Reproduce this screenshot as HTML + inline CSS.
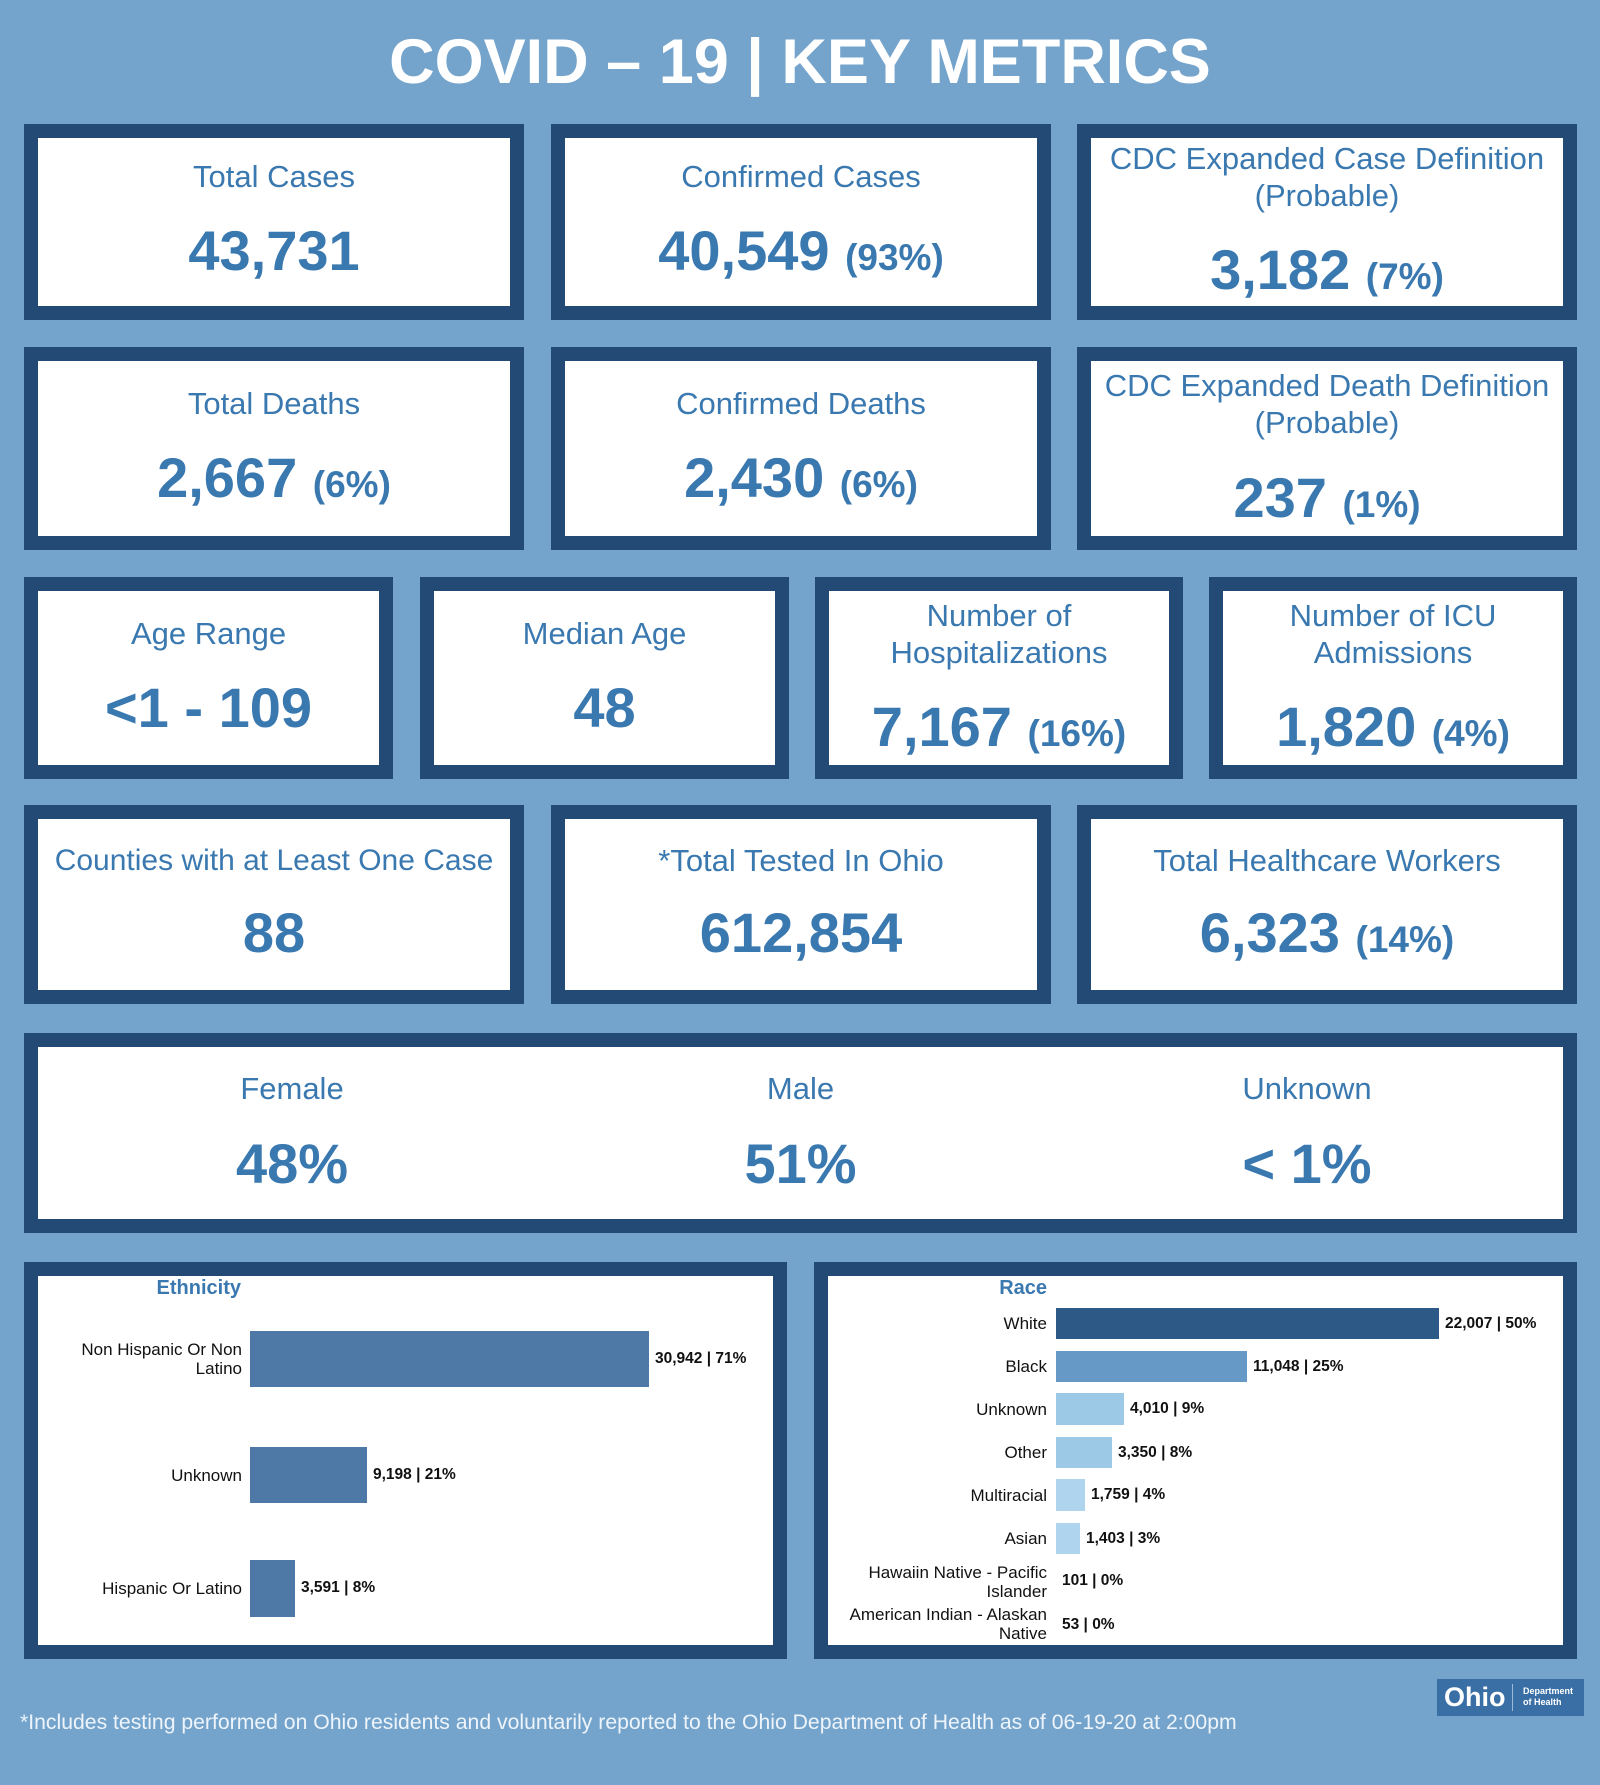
<!DOCTYPE html>
<html><head><meta charset="utf-8"><style>
*{margin:0;padding:0;box-sizing:border-box}
body{width:1600px;height:1785px;background:#74a4cc;position:relative;overflow:hidden;font-family:"Liberation Sans",Arial,sans-serif}
.t{position:absolute;left:0;width:1600px;text-align:center;top:22px;color:#fff;font-weight:bold;font-size:63px;line-height:80px}
.box{position:absolute;border:14px solid #234a74;background:#fff;color:#3a78b0;text-align:center}
.box .h{position:absolute;left:0;right:0;font-size:31px;line-height:37px}
.box .n{position:absolute;left:0;right:0;font-size:56px;font-weight:bold;line-height:64px;white-space:nowrap}
.box .n small{font-size:37px}
.lbl{position:absolute;font-size:17px;color:#111;text-align:right;line-height:19px}
.val{position:absolute;font-size:15.5px;font-weight:bold;color:#111;line-height:18px}
.bar{position:absolute}
</style></head><body>
<div class="t">COVID – 19 | KEY METRICS</div>

<div class="box" style="left:24px;top:124px;width:500px;height:196px"><div class="h" style="top:20px">Total Cases</div><div class="n" style="top:81px">43,731</div></div>
<div class="box" style="left:551px;top:124px;width:500px;height:196px"><div class="h" style="top:20px">Confirmed Cases</div><div class="n" style="top:81px">40,549 <small>(93%)</small></div></div>
<div class="box" style="left:1077px;top:124px;width:500px;height:196px"><div class="h" style="top:2px">CDC Expanded Case Definition<br>(Probable)</div><div class="n" style="top:100px">3,182 <small>(7%)</small></div></div>

<div class="box" style="left:24px;top:347px;width:500px;height:203px"><div class="h" style="top:24px">Total Deaths</div><div class="n" style="top:85px">2,667 <small>(6%)</small></div></div>
<div class="box" style="left:551px;top:347px;width:500px;height:203px"><div class="h" style="top:24px">Confirmed Deaths</div><div class="n" style="top:85px">2,430 <small>(6%)</small></div></div>
<div class="box" style="left:1077px;top:347px;width:500px;height:203px"><div class="h" style="top:6px">CDC Expanded Death Definition<br>(Probable)</div><div class="n" style="top:105px">237 <small>(1%)</small></div></div>

<div class="box" style="left:24px;top:577px;width:369px;height:202px"><div class="h" style="top:24px">Age Range</div><div class="n" style="top:85px">&lt;1 - 109</div></div>
<div class="box" style="left:420px;top:577px;width:369px;height:202px"><div class="h" style="top:24px">Median Age</div><div class="n" style="top:85px">48</div></div>
<div class="box" style="left:815px;top:577px;width:368px;height:202px"><div class="h" style="top:6px">Number of<br>Hospitalizations</div><div class="n" style="top:104px">7,167 <small>(16%)</small></div></div>
<div class="box" style="left:1209px;top:577px;width:368px;height:202px"><div class="h" style="top:6px">Number of ICU<br>Admissions</div><div class="n" style="top:104px">1,820 <small>(4%)</small></div></div>

<div class="box" style="left:24px;top:805px;width:500px;height:199px"><div class="h" style="top:23px;font-size:30px;left:-10px;right:-10px">Counties with at Least One Case</div><div class="n" style="top:82px">88</div></div>
<div class="box" style="left:551px;top:805px;width:500px;height:199px"><div class="h" style="top:23px">*Total Tested In Ohio</div><div class="n" style="top:82px">612,854</div></div>
<div class="box" style="left:1077px;top:805px;width:500px;height:199px"><div class="h" style="top:23px">Total Healthcare Workers</div><div class="n" style="top:82px">6,323 <small>(14%)</small></div></div>

<div class="box" style="left:24px;top:1033px;width:1553px;height:200px">
<div class="h" style="top:23px;left:-14px;right:auto;width:536px">Female</div><div class="n" style="top:85px;left:-14px;right:auto;width:536px">48%</div>
<div class="h" style="top:23px;left:0;right:0">Male</div><div class="n" style="top:85px">51%</div>
<div class="h" style="top:23px;left:1001px;right:auto;width:536px">Unknown</div><div class="n" style="top:85px;left:1001px;right:auto;width:536px">&lt; 1%</div>
</div>

<!-- Ethnicity -->
<div class="box" style="left:24px;top:1262px;width:763px;height:397px"></div>
<div style="position:absolute;left:100px;top:1277px;width:141px;text-align:right;color:#3a78b0;font-weight:bold;font-size:20px">Ethnicity</div>
<div class="bar" style="left:250px;top:1331px;width:399px;height:56px;background:#4e78a6"></div>
<div class="bar" style="left:250px;top:1447px;width:117px;height:56px;background:#4e78a6"></div>
<div class="bar" style="left:250px;top:1560px;width:45px;height:57px;background:#4e78a6"></div>
<div class="lbl" style="left:40px;width:202px;top:1340px">Non Hispanic Or Non<br>Latino</div>
<div class="lbl" style="left:40px;width:202px;top:1466px">Unknown</div>
<div class="lbl" style="left:40px;width:202px;top:1579px">Hispanic Or Latino</div>
<div class="val" style="left:655px;top:1350px">30,942 | 71%</div>
<div class="val" style="left:373px;top:1466px">9,198 | 21%</div>
<div class="val" style="left:301px;top:1579px">3,591 | 8%</div>

<!-- Race -->
<div class="box" style="left:814px;top:1262px;width:763px;height:397px"></div>
<div style="position:absolute;left:900px;top:1277px;width:147px;text-align:right;color:#3a78b0;font-weight:bold;font-size:20px">Race</div>
<div class="bar" style="left:1056px;top:1308px;width:383px;height:31px;background:#2c5986"></div>
<div class="bar" style="left:1056px;top:1351px;width:191px;height:31px;background:#6699c6"></div>
<div class="bar" style="left:1056px;top:1393px;width:68px;height:32px;background:#9ccae6"></div>
<div class="bar" style="left:1056px;top:1437px;width:56px;height:31px;background:#9ccae6"></div>
<div class="bar" style="left:1056px;top:1479px;width:29px;height:32px;background:#aed4ee"></div>
<div class="bar" style="left:1056px;top:1523px;width:24px;height:31px;background:#aed4ee"></div>
<div class="lbl" style="left:830px;width:217px;top:1314px">White</div>
<div class="lbl" style="left:830px;width:217px;top:1357px">Black</div>
<div class="lbl" style="left:830px;width:217px;top:1400px">Unknown</div>
<div class="lbl" style="left:830px;width:217px;top:1443px">Other</div>
<div class="lbl" style="left:830px;width:217px;top:1486px">Multiracial</div>
<div class="lbl" style="left:830px;width:217px;top:1529px">Asian</div>
<div class="lbl" style="left:830px;width:217px;top:1563px">Hawaiin Native - Pacific<br>Islander</div>
<div class="lbl" style="left:820px;width:227px;top:1605px">American Indian - Alaskan<br>Native</div>
<div class="val" style="left:1445px;top:1315px">22,007 | 50%</div>
<div class="val" style="left:1253px;top:1358px">11,048 | 25%</div>
<div class="val" style="left:1130px;top:1400px">4,010 | 9%</div>
<div class="val" style="left:1118px;top:1444px">3,350 | 8%</div>
<div class="val" style="left:1091px;top:1486px">1,759 | 4%</div>
<div class="val" style="left:1086px;top:1530px">1,403 | 3%</div>
<div class="val" style="left:1062px;top:1572px">101 | 0%</div>
<div class="val" style="left:1062px;top:1616px">53 | 0%</div>

<div style="position:absolute;left:20px;top:1711px;color:#eef4fa;font-size:21.2px">*Includes testing performed on Ohio residents and voluntarily reported to the Ohio Department of Health as of 06-19-20 at 2:00pm</div>
<div style="position:absolute;left:1437px;top:1679px;width:147px;height:37px;background:#3a6fa6;color:#fff">
<div style="position:absolute;left:7px;top:2px;font-size:27px;font-weight:bold;line-height:32px">Ohio</div>
<div style="position:absolute;left:75px;top:5px;width:1px;height:27px;background:#9bbbd8"></div>
<div style="position:absolute;left:86px;top:7px;font-size:9px;font-weight:bold;line-height:11px">Department<br>of Health</div>
</div>
</body></html>
